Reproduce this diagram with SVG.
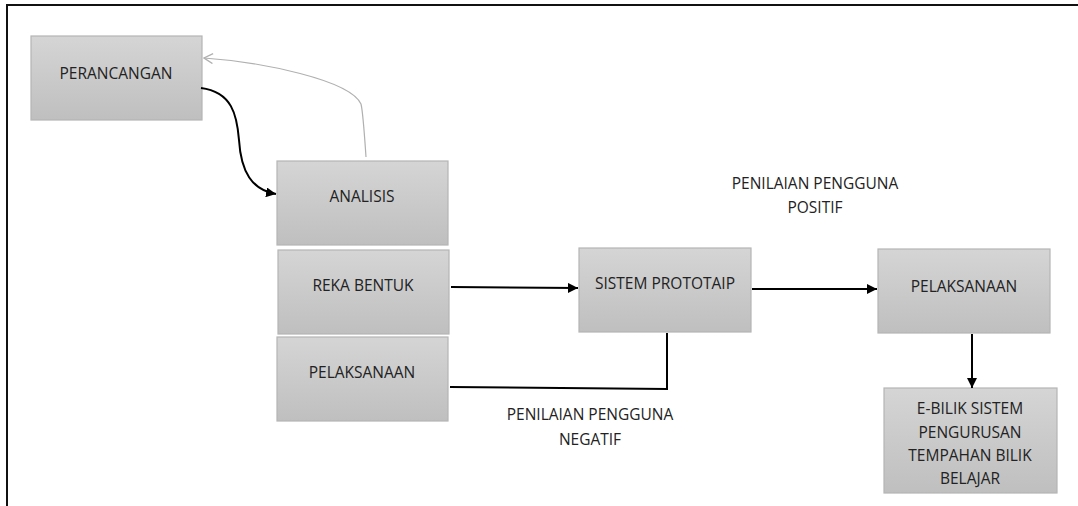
<svg xmlns="http://www.w3.org/2000/svg" width="1078" height="506" viewBox="0 0 1078 506">
<defs>
<linearGradient id="g" x1="0" y1="0" x2="0" y2="1">
<stop offset="0" stop-color="#d5d5d5"/>
<stop offset="1" stop-color="#bfbfbf"/>
</linearGradient>
<marker id="ah" viewBox="0 0 10 10" refX="10" refY="5" markerWidth="10" markerHeight="10" markerUnits="userSpaceOnUse" orient="auto">
<path d="M0,0 L10,5 L0,10 Z" fill="#000"/>
</marker>
<marker id="oa" viewBox="0 0 10 10" refX="9" refY="5" markerWidth="11" markerHeight="11" markerUnits="userSpaceOnUse" orient="auto">
<path d="M1,0.5 L9,5 L1,9.5" fill="none" stroke="#b0b0b0" stroke-width="1.2"/>
</marker>
</defs>
<style>
.box{fill:url(#g);stroke:#b5b5b5;stroke-width:1.2}
.t{font-family:"Open Sans","Liberation Sans",sans-serif;font-size:15.5px;fill:#222;text-anchor:middle}
.c{fill:none;stroke:#000;stroke-width:2}
</style>
<rect width="1078" height="506" fill="#fff"/>
<path d="M7,506 V5 H1078" fill="none" stroke="#111" stroke-width="2"/>
<g id="n-perancangan"><rect class="box" x="31" y="36" width="171" height="84"/><text class="t" x="116" y="79">PERANCANGAN</text></g>
<g id="n-analisis"><rect class="box" x="277" y="161" width="171" height="84"/><text class="t" x="362" y="202">ANALISIS</text></g>
<g id="n-rekabentuk"><rect class="box" x="278" y="250" width="171" height="84"/><text class="t" x="363" y="291">REKA BENTUK</text></g>
<g id="n-pelaksanaan1"><rect class="box" x="277" y="337" width="171" height="84"/><text class="t" x="362" y="378">PELAKSANAAN</text></g>
<g id="n-prototaip"><rect class="box" x="579" y="248" width="172" height="84"/><text class="t" x="665" y="289">SISTEM PROTOTAIP</text></g>
<g id="n-pelaksanaan2"><rect class="box" x="878" y="249" width="172" height="84"/><text class="t" x="964" y="292">PELAKSANAAN</text></g>
<g id="n-ebilik"><rect class="box" x="884" y="388" width="173" height="105"/>
<text class="t" x="970" y="414">E-BILIK SISTEM</text>
<text class="t" x="970" y="438">PENGURUSAN</text>
<text class="t" x="970" y="461">TEMPAHAN BILIK</text>
<text class="t" x="970" y="484">BELAJAR</text></g>
<g id="labels">
<text class="t" x="815" y="189">PENILAIAN PENGGUNA</text>
<text class="t" x="815" y="213">POSITIF</text>
<text class="t" x="590" y="420">PENILAIAN PENGGUNA</text>
<text class="t" x="590" y="445">NEGATIF</text>
</g>
<g id="connectors">
<path class="c" d="M201,88 C232,92 237,115 239,140 C241,172 252,190 276,194" stroke-width="2.4" marker-end="url(#ah)"/>
<path d="M366,157 C364,128 363,112 361,104 C350,80 262,62 204,58" fill="none" stroke="#b0b0b0" stroke-width="1.2" marker-end="url(#oa)"/>
<path class="c" d="M451,287 L578,288" marker-end="url(#ah)"/>
<path class="c" d="M752,289 L877,289" marker-end="url(#ah)"/>
<path class="c" d="M667,333 V389 L450,387"/>
<path class="c" d="M972,334 V388" marker-end="url(#ah)"/>
</g>
</svg>
